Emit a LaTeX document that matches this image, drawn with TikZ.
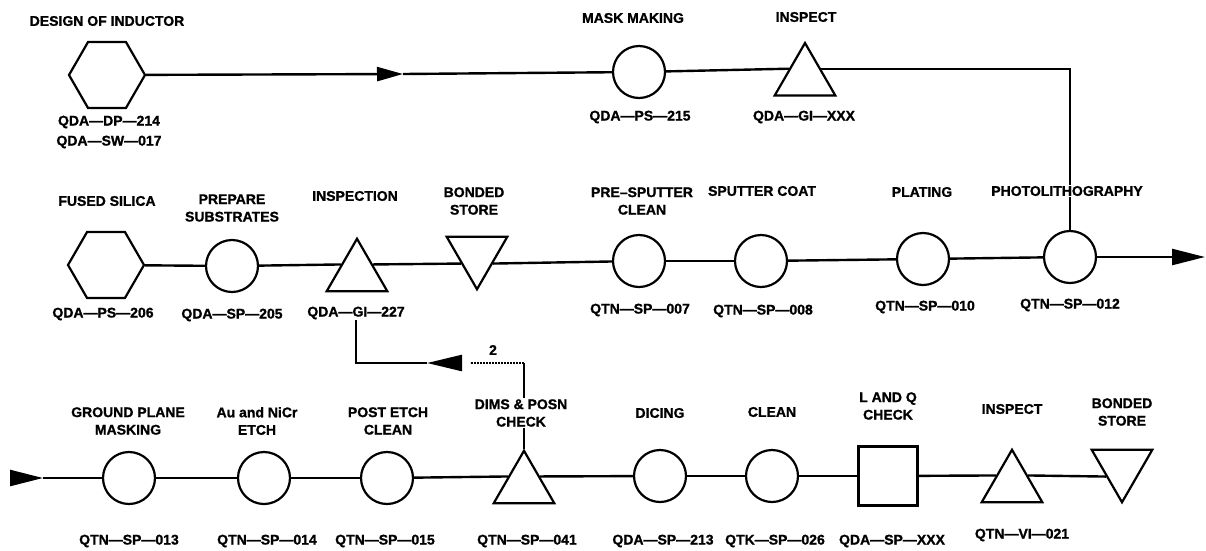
\documentclass[tikz,border=0pt]{standalone}
\usepackage{fontspec}
\setmainfont{Liberation Sans}[BoldFeatures={FakeBold=1.2}]
\usetikzlibrary{shapes.geometric,arrows.meta}
\pgfdeclarelayer{bg}
\pgfsetlayers{bg,main}
\begin{document}
\begin{tikzpicture}[x=1pt,y=-1pt,
  shp/.style={draw, line width=2.2pt, inner sep=0pt},
  proc/.style={shp, circle, minimum size=52pt},
  hexa/.style={shp, regular polygon, regular polygon sides=6, minimum size=76pt},
  insp/.style={shp, regular polygon, regular polygon sides=3, minimum size=70pt},
  store/.style={insp, shape border rotate=180},
  chk/.style={shp, rectangle, minimum size=59pt},
  txt/.style={font=\fontsize{14}{17.5}\selectfont\bfseries, align=center, inner sep=1pt},
  lbl/.style={txt, fill=white},
  flow/.style={line width=2.4pt},
  bigtip/.style={-{Triangle[length=33pt,width=16pt]}}
]
\useasboundingbox (0,0) rectangle (1206,550);

% ---------- top row ----------
\node[hexa] (design) at (107,75) {};
\node[txt] (design-t) at (107,21) {DESIGN OF INDUCTOR};
\node[txt] (design-c) at (109,132) {QDA---DP---214\\[2.5pt]QDA---SW---017};
\node[proc] (mask) at (639,72) {};
\node[txt] (mask-t) at (633,18) {MASK MAKING};
\node[txt] (mask-c) at (640,117) {QDA---PS---215};
\node[insp] (insp1) at (805,78) {};
\node[txt] (insp1-t) at (806,17) {INSPECT};
\node[txt] (insp1-c) at (804,117) {QDA---GI---XXX};
\coordinate (a1) at (403,74);

% ---------- middle row ----------
\node[hexa] (silica) at (106,265) {};
\node[txt] (silica-t) at (107,201) {FUSED SILICA};
\node[txt] (silica-c) at (103,314) {QDA---PS---206};
\node[proc] (prep) at (232,266) {};
\node[txt] (prep-t) at (232,208) {PREPARE\\SUBSTRATES};
\node[txt] (prep-c) at (232,315) {QDA---SP---205};
\node[insp] (insp2) at (357,273.75) {};
\node[txt] (insp2-t) at (355,196) {INSPECTION};
\node[txt] (insp2-c) at (356,313) {QDA---GI---227};
\node[store] (bond2) at (477,254.25) {};
\node[txt] (bond2-t) at (474,201) {BONDED\\STORE};
\node[proc] (presp) at (639,261) {};
\node[txt] (presp-t) at (642,201) {PRE--SPUTTER\\CLEAN};
\node[txt] (presp-c) at (640,310) {QTN---SP---007};
\node[proc] (sput) at (761,261) {};
\node[txt] (sput-t) at (762,191) {SPUTTER COAT};
\node[txt] (sput-c) at (763,311) {QTN---SP---008};
\node[proc] (plat) at (923,259) {};
\node[txt] (plat-t) at (922,192) {PLATING};
\node[txt] (plat-c) at (925,307) {QTN---SP---010};
\node[proc] (photo) at (1070,257) {};
\node[lbl] (photo-t) at (1067,191) {PHOTOLITHOGRAPHY};
\node[txt] (photo-c) at (1070,305) {QTN---SP---012};
\coordinate (outR) at (1205,257);

% ---------- bottom row ----------
\coordinate (inL) at (10,478);
\coordinate (inT) at (43,478);
\node[proc] (gp) at (129,478) {};
\node[txt] (gp-t) at (128,421) {GROUND PLANE\\MASKING};
\node[txt] (gp-c) at (129,541) {QTN---SP---013};
\node[proc] (au) at (264,478) {};
\node[txt] (au-t) at (257,421) {Au and NiCr\\ETCH};
\node[txt] (au-c) at (267,541) {QTN---SP---014};
\node[proc] (post) at (387,478) {};
\node[txt] (post-t) at (388,421) {POST ETCH\\CLEAN};
\node[txt] (post-c) at (385,541) {QTN---SP---015};
\node[insp] (dims) at (524,485.75) {};
\node[lbl] (dims-t) at (521,413) {DIMS \& POSN\\CHECK};
\node[txt] (dims-c) at (527,541) {QTN---SP---041};
\node[proc] (dicing) at (660,476) {};
\node[txt] (dicing-t) at (660,413) {DICING};
\node[txt] (dicing-c) at (663,541) {QDA---SP---213};
\node[proc] (clean) at (772,476) {};
\node[txt] (clean-t) at (772,412) {CLEAN};
\node[txt] (clean-c) at (775,541) {QTK---SP---026};
\node[chk] (lq) at (888,476) {};
\node[txt] (lq-t) at (888,406) {L AND Q\\CHECK};
\node[txt] (lq-c) at (892,541) {QDA---SP---XXX};
\node[insp] (insp3) at (1012,484.75) {};
\node[txt] (insp3-t) at (1012,409) {INSPECT};
\node[txt] (insp3-c) at (1022,535) {QTN---VI---021};
\node[store] (bond3) at (1122,467.25) {};
\node[txt] (bond3-t) at (1122,412) {BONDED\\STORE};

% feedback loop
\coordinate (fbC) at (524,363);
\coordinate (fbA) at (470,363);
\coordinate (fbB) at (462,363);
\coordinate (fbT) at (427,363);
\node[txt] (two) at (493,350) {2};

\begin{pgfonlayer}{bg}
  % top
  \draw[flow,-{Triangle[length=26pt,width=14pt]}] (design) -- (a1);
  \draw[flow] (a1) -- (mask);
  \draw[flow] (mask) -- (insp1.side 1);
  \draw[flow] (insp1.side 3) -| (photo);
  % middle
  \draw[flow] (silica) -- (prep);
  \draw[flow] (prep) -- (insp2.side 1);
  \draw[flow] (insp2.side 3) -- (bond2.side 3);
  \draw[flow] (bond2.side 1) -- (presp);
  \draw[flow] (presp) -- (sput);
  \draw[flow] (sput) -- (plat);
  \draw[flow] (plat) -- (photo);
  \draw[flow,bigtip] (photo) -- (outR);
  % bottom
  \draw[flow,bigtip] (inL) -- (inT);
  \draw[flow] (inT) -- (gp);
  \draw[flow] (gp) -- (au);
  \draw[flow] (au) -- (post);
  \draw[flow] (post) -- (dims.side 1);
  \draw[flow] (dims.side 3) -- (dicing);
  \draw[flow] (dicing) -- (clean);
  \draw[flow] (clean) -- (lq);
  \draw[flow] (lq) -- (insp3.side 1);
  \draw[flow] (insp3.side 3) -- (bond3.side 3);
  % feedback
  \draw[flow] (dims.north) -- (fbC);
  \draw[line width=1.4pt, dash pattern=on 2pt off 1pt] (fbC) -- (fbA);
  \draw[flow,-{Triangle[length=35pt,width=16pt]}] (fbB) -- (fbT);
  \draw[flow] (fbT) -| (insp2-c.south);
\end{pgfonlayer}
\end{tikzpicture}
\end{document}
